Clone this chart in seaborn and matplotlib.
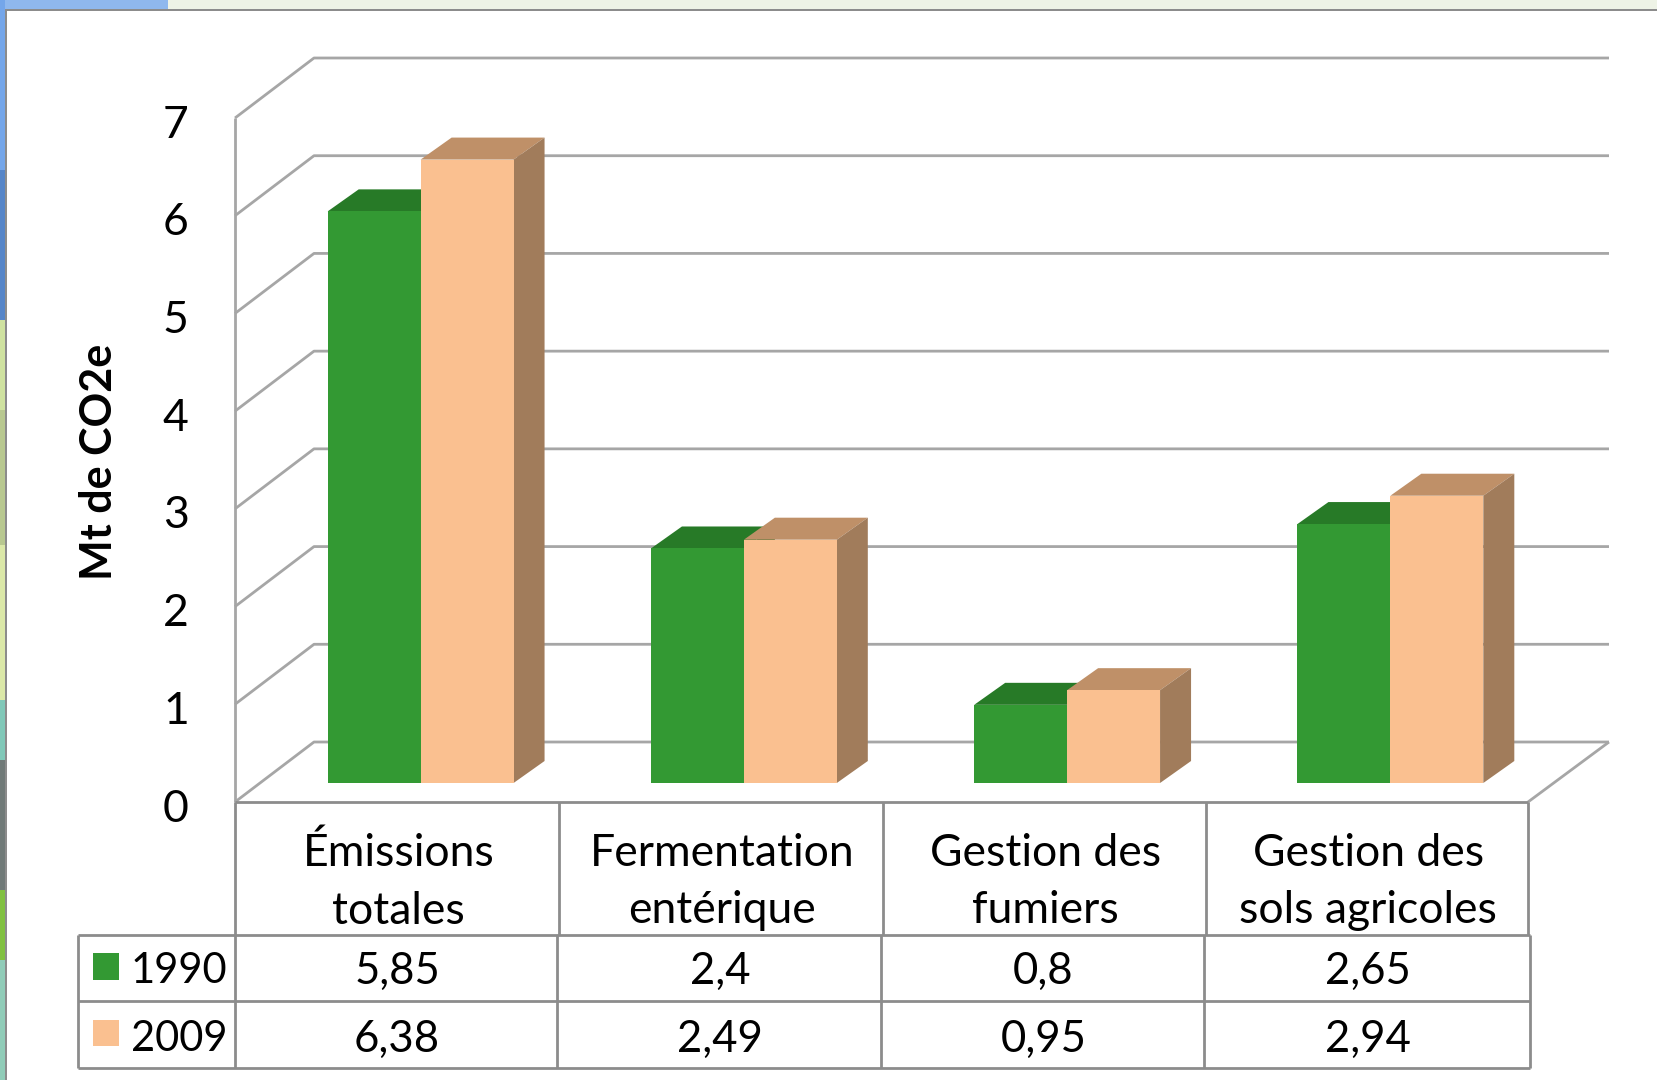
import matplotlib
matplotlib.use('Agg')
import matplotlib.pyplot as plt
import pandas as pd
import seaborn as sns
from matplotlib.lines import Line2D
from matplotlib.patches import Polygon, Rectangle
from matplotlib.transforms import IdentityTransform, Affine2D

W, H = 1658, 1080

categories = ['Émissions\ntotales', 'Fermentation\nentérique', 'Gestion des\nfumiers', 'Gestion des\nsols agricoles']
years = ['1990', '2009']
values_1990 = [5.85, 2.4, 0.8, 2.65]
values_2009 = [6.38, 2.49, 0.95, 2.94]
labels_1990 = ['5,85', '2,4', '0,8', '2,65']
labels_2009 = ['6,38', '2,49', '0,95', '2,94']
y_ticks = [0, 1, 2, 3, 4, 5, 6, 7]

GREEN, PEACH = '#339933', '#fac090'
GRID = '#a6a6a6'
TABLE = '#8c8c8c'

df = pd.DataFrame({
    'cat': categories * 2,
    'year': [years[0]] * 4 + [years[1]] * 4,
    'val': values_1990 + values_2009,
})

sns.set_theme(style='white')
plt.rcParams['font.family'] = ['Lato', 'DejaVu Sans']

fig = plt.figure(figsize=(W / 100, H / 100), dpi=100, facecolor='white')
px = IdentityTransform()


def rect(x0, y0, x1, y1, color):
    # pixel box, measured from the top left
    fig.add_artist(Rectangle((x0, H - y1), x1 - x0, y1 - y0, transform=px, facecolor=color, edgecolor='none', zorder=-5))


def line(ax, xs, ys, color, lw=2, z=0.5):
    ax.add_line(Line2D(xs, [H - y for y in ys], transform=px, color=color, lw=lw, clip_on=False, zorder=z, solid_capstyle='butt'))


# photo strip and slide background behind the white panel
rect(0, 0, W, 10, '#eef3e6')
rect(0, 0, 168, 10, '#8fb8ee')
strip = [(0, 170, '#74a6ea'), (170, 320, '#5585c8'), (320, 410, '#cfe2a0'), (410, 545, '#b8c890'),
         (545, 700, '#dbe8a8'), (700, 760, '#80c8b8'), (760, 890, '#707a78'), (890, 960, '#80c040'),
         (960, 1080, '#90ccb8')]
for y0, y1, c in strip:
    rect(0, y0, 5, y1, c)
rect(5, 9, W, 11, '#8c8c8c')
rect(5, 9, 7, H, '#8c8c8c')

# front plane of the chart
ax = fig.add_axes([235 / W, (H - 802) / H, (1528 - 235) / W, (802 - 118) / H])
sns.barplot(data=df, x='cat', y='val', hue='year', palette=[GREEN, PEACH], width=0.575, gap=0,
            saturation=1, legend=False, ax=ax, zorder=2)
ax.set_xlim(-0.5, 3.5)
ax.set_ylim(0, 7)
ax.set_xlabel('')
ax.set_ylabel('Mt de CO2e', fontsize=31, fontweight='bold', color='black')
ax.yaxis.set_label_coords((119 - 235) / 1293, (802 - 462) / 684)
ax.set_yticks(y_ticks)
ax.tick_params(axis='y', length=0, pad=34, labelsize=32, labelcolor='black')
ax.tick_params(axis='x', length=0, pad=22, labelsize=32, labelcolor='black')
for lab in ax.get_xticklabels():
    lab.set_linespacing(1.5)
    lab.set_transform(lab.get_transform() + Affine2D().translate(2, 0))
for lab in ax.get_yticklabels():
    lab.set_transform(lab.get_transform() + Affine2D().translate(1, -3))
for s in ax.spines.values():
    s.set_visible(False)
ax.patch.set_alpha(0)
fig.canvas.draw()

# back wall and floor
DX, DY = 79, 60
for v in y_ticks:
    y = H - ax.transData.transform((0, v))[1]
    line(ax, [235, 235 + DX, 1609], [y, y - DY, y - DY], GRID)
line(ax, [235, 235], [118, 802], GRID)
line(ax, [1528, 1609], [802, 742], GRID)

# bars sit a little behind the front plane, with a top and a side face
BAR_DX, BAR_DY = 24, 19
SHIFT = Affine2D().translate(BAR_DX, BAR_DY)
for container, top_c, side_c, z in zip(ax.containers, ['#277a27', '#bf9068'], ['#1f6b1f', '#a17c5b'], [2, 3]):
    for bar in container:
        (x0, y0), (x1, y1) = ax.transData.transform(bar.get_bbox().get_points())
        x0, x1, y0, y1 = x0 + BAR_DX, x1 + BAR_DX, y0 + BAR_DY, y1 + BAR_DY
        bar.set_transform(ax.transData + SHIFT)
        bar.set_clip_on(False)
        bar.set_zorder(z + 0.5)
        bar.set_edgecolor('none')
        d = (31, 22)
        ax.add_patch(Polygon([(x0, y1), (x0 + d[0], y1 + d[1]), (x1 + d[0], y1 + d[1]), (x1, y1)],
                             transform=px, facecolor=top_c, edgecolor='none', clip_on=False, zorder=z))
        ax.add_patch(Polygon([(x1, y0), (x1 + d[0], y0 + d[1]), (x1 + d[0], y1 + d[1]), (x1, y1)],
                             transform=px, facecolor=side_c, edgecolor='none', clip_on=False, zorder=z))

# category cells under the axis
line(ax, [235, 1528], [802, 802], TABLE, lw=2)
for x in [235, 559, 883, 1206, 1528]:
    line(ax, [x, x], [802, 935], TABLE)

# data table
table_x = [78, 235, 557, 881, 1204, 1530]
table_y = [935, 1001, 1068]
for y in table_y:
    line(ax, [table_x[0], table_x[-1]], [y, y], TABLE, lw=2)
for x in table_x:
    line(ax, [x, x], [table_y[0], table_y[-1]], TABLE, lw=2)

rows = [(years[0], GREEN, labels_1990, 971, (93, 953, 119, 980)),
        (years[1], PEACH, labels_2009, 1039, (93, 1020, 119, 1046))]
for year, color, cells, y, box in rows:
    fig.add_artist(Rectangle((box[0], H - box[3]), box[2] - box[0], box[3] - box[1], transform=px,
                             facecolor=color, edgecolor='none'))
    fig.text(131 / W, 1 - y / H, year, fontsize=30, ha='left', va='center', color='black')
    for i, txt in enumerate(cells):
        xc = (table_x[i + 1] + table_x[i + 2]) / 2 + 1
        fig.text(xc / W, 1 - y / H, txt, fontsize=31.5, ha='center', va='center', color='black')

fig.savefig('out.png', dpi=100)
plt.close()
